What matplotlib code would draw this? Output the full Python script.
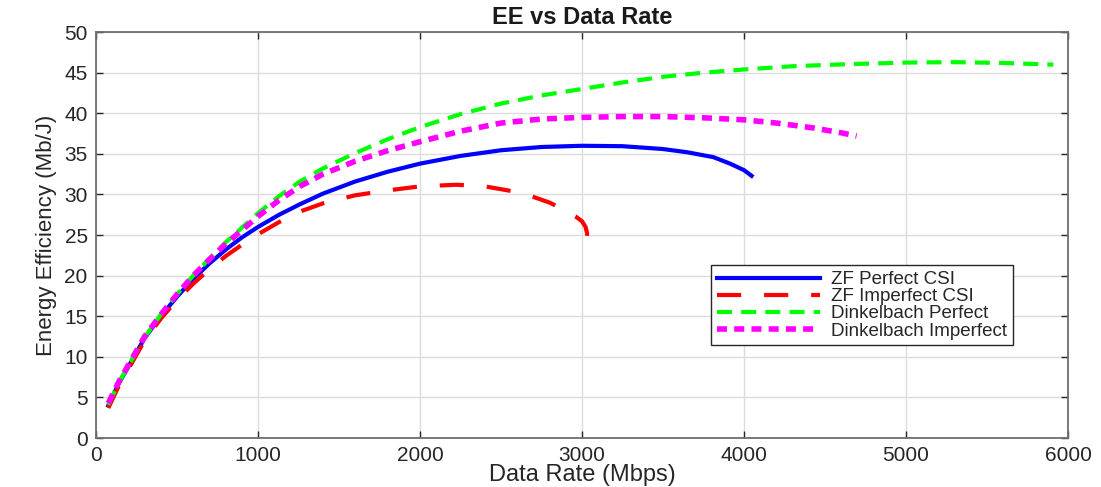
import matplotlib.pyplot as plt

plt.rcParams['font.family'] = ['Liberation Sans', 'DejaVu Sans']

# ZF with perfect CSI
zf_x = [76, 140, 200, 300, 400, 500, 600, 700, 800, 900, 1000, 1130, 1259, 1400, 1600, 1800, 2000,
        2250, 2500, 2750, 3000, 3250, 3500, 3650, 3811, 3914, 4000, 4047]
zf_y = [4.0, 6.7, 8.8, 12.3, 15.0, 17.4, 19.6, 21.5, 23.2, 24.7, 26.0, 27.5, 28.8, 30.1, 31.6, 32.8, 33.8,
        34.75, 35.45, 35.85, 36.0, 35.95, 35.6, 35.2, 34.6, 33.8, 33.0, 32.3]

# ZF with imperfect CSI
zfi_x = [76, 140, 200, 300, 400, 500, 600, 700, 800, 900, 1000, 1130, 1259, 1400, 1600, 1800, 2000,
         2226, 2400, 2600, 2700, 2800, 2900, 2960, 3000, 3022, 3032, 3028, 3015, 3000]
zfi_y = [3.7, 6.4, 8.5, 12.0, 14.7, 17.0, 19.0, 20.8, 22.4, 23.8, 25.1, 26.6, 27.9, 28.9, 29.9, 30.5, 31.0,
         31.2, 31.0, 30.3, 29.7, 29.0, 28.0, 27.3, 26.7, 26.0, 25.2, 24.6, 24.2, 24.0]

# Dinkelbach perfect
dk_x = [76, 140, 200, 300, 400, 500, 600, 700, 800, 900, 1000, 1130, 1259, 1400, 1600, 1800, 2000,
        2250, 2500, 2750, 3000, 3250, 3500, 3750, 4000, 4300, 4634, 5000, 5300, 5600, 5910]
dk_y = [4.1, 6.8, 8.9, 12.4, 15.2, 17.7, 20.0, 22.1, 24.1, 25.9, 27.7, 29.8, 31.6, 33.2, 35.1, 36.8, 38.3,
        39.9, 41.2, 42.2, 43.0, 43.8, 44.5, 45.0, 45.4, 45.8, 46.05, 46.25, 46.3, 46.2, 46.0]

# Dinkelbach imperfect
dki_x = [76, 140, 200, 300, 400, 500, 600, 700, 800, 900, 1000, 1130, 1259, 1400, 1600, 1800, 2000,
         2250, 2500, 2750, 3000, 3250, 3500, 3750, 4000, 4200, 4428, 4600, 4695]
dki_y = [4.3, 6.9, 9.0, 12.5, 15.2, 17.7, 20.0, 22.0, 23.9, 25.6, 27.3, 29.3, 31.0, 32.5, 34.1, 35.4, 36.5,
         37.8, 38.8, 39.3, 39.5, 39.6, 39.6, 39.45, 39.2, 38.8, 38.2, 37.6, 37.2]

fig = plt.figure(figsize=(11.01, 4.87), dpi=100)
ax = fig.add_axes([0.0872, 0.1006, 0.8828, 0.8334])

ax.plot(zf_x, zf_y, color='#0000ff', lw=3, label='ZF Perfect CSI')
ax.plot(zfi_x, zfi_y, color='#ff0000', lw=3, dashes=(5.8, 5.5), label='ZF Imperfect CSI')
ax.plot(dk_x, dk_y, color='#00ff00', lw=3, dashes=(3.6, 2.2), label='Dinkelbach Perfect')
ax.plot(dki_x, dki_y, color='#ff00ff', lw=4, dashes=(1.8, 1.3), label='Dinkelbach Imperfect')

ax.set_xlim(0, 6000)
ax.set_ylim(0, 50)
ax.set_xticks(range(0, 6001, 1000))
ax.set_yticks(range(0, 51, 5))
ax.grid(True, color='#dcdcdc', lw=1)
ax.set_axisbelow(True)
ax.tick_params(direction='in', top=True, right=True, length=5, width=1,
               labelsize=15, colors='#262626', pad=6)
for s in ax.spines.values():
    s.set_color('#6e6e6e')
    s.set_linewidth(1.3)

ax.set_title('EE vs Data Rate', fontsize=17, fontweight='bold', color='#1a1a1a', pad=6)
ax.set_xlabel('Data Rate (Mbps)', fontsize=17, color='#262626', labelpad=-1)
ax.set_ylabel('Energy Efficiency (Mb/J)', fontsize=16, color='#262626', labelpad=5)

leg = ax.legend(loc='center', bbox_to_anchor=(0.788, 0.327), fontsize=13.5,
                handlelength=5.5, labelspacing=0.0, borderpad=0.3,
                handletextpad=0.6, fancybox=False, framealpha=1)
leg.get_frame().set_edgecolor('#262626')
leg.get_frame().set_linewidth(1)
for t in leg.get_texts():
    t.set_color('#262626')

plt.savefig('out.png', dpi=100)
